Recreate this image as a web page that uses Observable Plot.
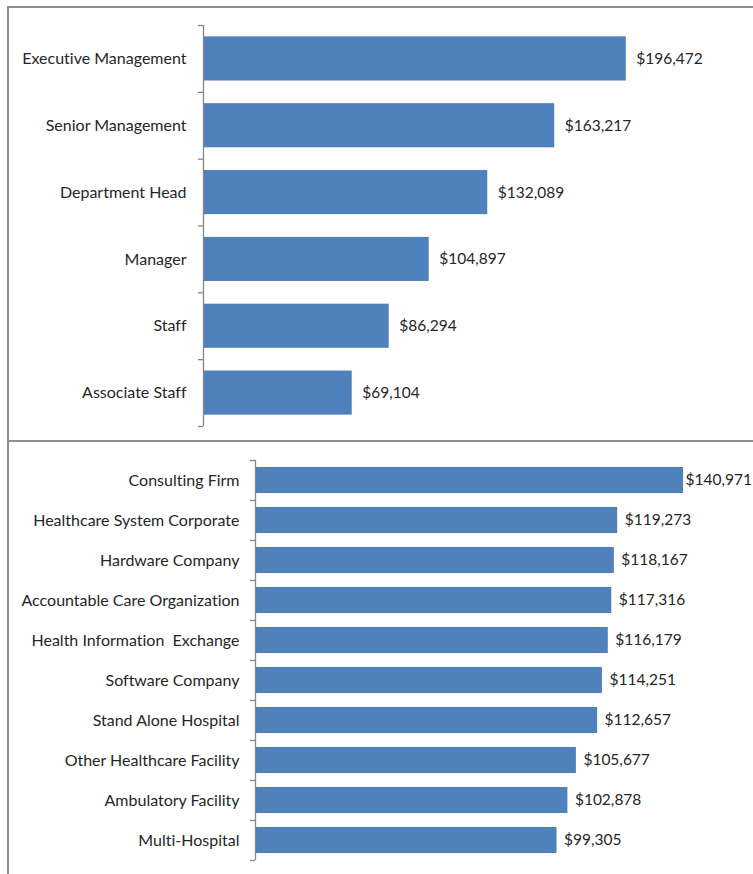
<!DOCTYPE html>
<html><head><meta charset="utf-8">
<script src="https://cdn.jsdelivr.net/npm/d3@7"></script>
<script src="https://cdn.jsdelivr.net/npm/@observablehq/plot@0.6"></script>
<style>
body{margin:0;background:#fff;}
#wrap{position:relative;width:753px;height:874px;overflow:hidden;background:#fff;}
.line{position:absolute;background:#8f8f8f;}
#p1{position:absolute;left:0;top:0;}
#p2{position:absolute;left:0;top:441px;}
svg text{white-space:pre;font-variant-ligatures:none;font-feature-settings:"liga" 0;}
</style></head><body>
<div id="wrap">
<div id="p1"></div><div id="p2"></div>
<div class="line" style="left:7px;top:6px;width:746px;height:2px"></div>
<div class="line" style="left:7px;top:6px;width:2px;height:868px"></div>
<div class="line" style="left:7px;top:440px;width:746px;height:2px"></div>
</div>
<script>
const roles = ["Executive Management","Senior Management","Department Head","Manager","Staff","Associate Staff"];
const roleSalaries = [196472,163217,132089,104897,86294,69104];
const orgTypes = ["Consulting Firm","Healthcare System Corporate","Hardware Company","Accountable Care Organization","Health Information  Exchange","Software Company","Stand Alone Hospital","Other Healthcare Facility","Ambulatory Facility","Multi-Hospital"];
const orgSalaries = [140971,119273,118167,117316,116179,114251,112657,105677,102878,99305];

const BAR = "#4F81BD", AXIS = "#868686", TEXT = "#262626";
const fmt = d3.format(",");

function panel({cats, vals, height, marginLeft, marginRight, marginTop, marginBottom, xMax, pad, tickPadding, labelDx, tightDx}) {
  const data = cats.map((c, i) => ({cat: c, value: vals[i]}));
  const maxV = d3.max(vals);
  const step = (height - marginTop - marginBottom) / cats.length;
  const label = d => "$" + fmt(d.value);
  const textOpts = {x: "value", y: "cat", text: label, textAnchor: "start", fill: TEXT, fontSize: 15.5};
  return Plot.plot({
    width: 753, height, marginLeft, marginRight, marginTop, marginBottom,
    style: {fontFamily: "Lato, sans-serif", fontSize: "16px", color: TEXT, background: "transparent", overflow: "visible"},
    x: {domain: [0, xMax], axis: null},
    y: {type: "band", domain: cats, paddingInner: pad, paddingOuter: pad / 2, round: false, tickSize: 0, tickPadding, label: null},
    marks: [
      Plot.barX(data, {x: "value", y: "cat", fill: BAR}),
      Plot.ruleX([0], {stroke: AXIS, strokeWidth: 1.3}),
      Plot.ruleY(cats, {y: d => d, x1: 0, x2: 0, insetLeft: -5, dy: -step / 2, stroke: AXIS, strokeWidth: 1.3}),
      Plot.ruleY([cats[cats.length - 1]], {y: d => d, x1: 0, x2: 0, insetLeft: -5, dy: step / 2, stroke: AXIS, strokeWidth: 1.3}),
      Plot.text(data.filter(d => tightDx == null || d.value !== maxV), {...textOpts, dx: labelDx}),
      tightDx == null ? null : Plot.text(data.filter(d => d.value === maxV), {...textOpts, dx: tightDx})
    ]
  });
}

document.getElementById("p1").append(panel({
  cats: roles, vals: roleSalaries, height: 441,
  marginLeft: 203, marginRight: 12, marginTop: 25, marginBottom: 15,
  xMax: 250000, pad: 0.34, tickPadding: 17, labelDx: 10
}));
document.getElementById("p2").append(panel({
  cats: orgTypes, vals: orgSalaries, height: 433,
  marginLeft: 255, marginRight: 0, marginTop: 19, marginBottom: 14,
  xMax: 164000, pad: 0.35, tickPadding: 16, labelDx: 7, tightDx: 2
}));
</script>
</body></html>
